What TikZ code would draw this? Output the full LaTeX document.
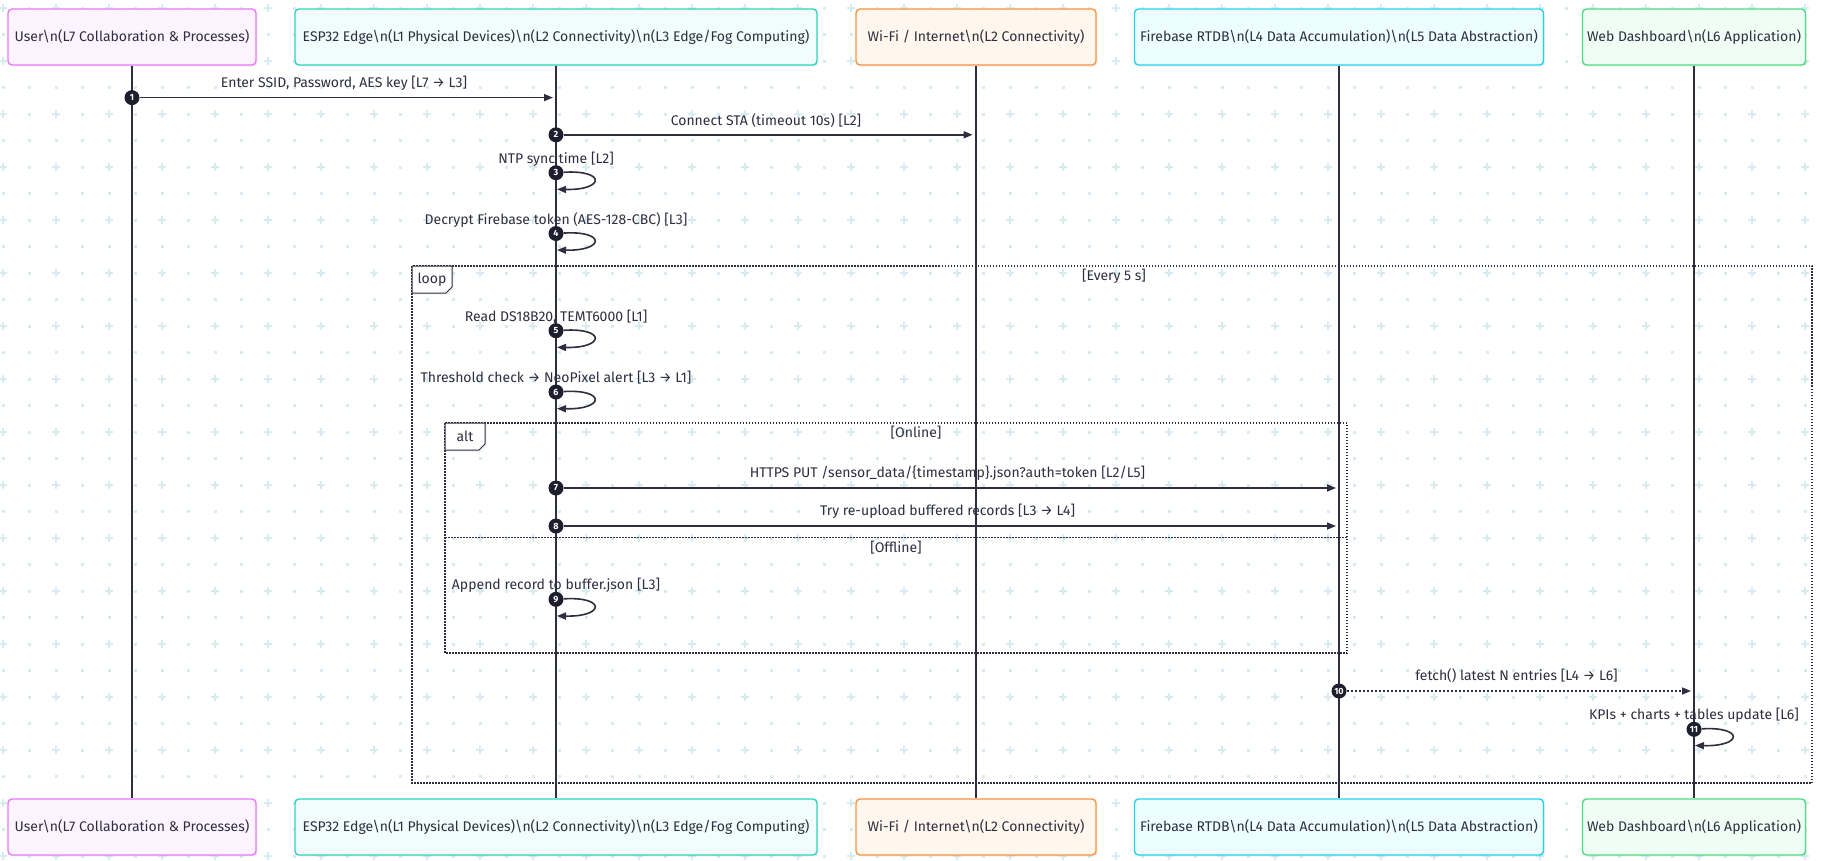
\documentclass[tikz,border=0pt]{standalone}
\usepackage{fontspec}
\setmainfont{Fira Sans}
\usepackage{tikz}
\usetikzlibrary{positioning,arrows.meta,shadows}
\definecolor{inkc}{HTML}{2E2E40}
\definecolor{numc}{HTML}{1E1E2E}
\definecolor{gridc}{HTML}{D6ECF1}
\definecolor{userline}{HTML}{E879F9}
\definecolor{userfill}{HTML}{FDF4FF}
\definecolor{espline}{HTML}{2DD4BF}
\definecolor{espfill}{HTML}{F0FDFA}
\definecolor{wifiline}{HTML}{FB923C}
\definecolor{wififill}{HTML}{FFF7ED}
\definecolor{fbline}{HTML}{22D3EE}
\definecolor{fbfill}{HTML}{ECFEFF}
\definecolor{webline}{HTML}{4ADE80}
\definecolor{webfill}{HTML}{F0FDF4}
\tikzset{
    actor/.style={
        rectangle,
        rounded corners=4pt,
        line width=1.4pt,
        minimum height=56pt,
        text centered,
        text=inkc,
        font=\fontsize{14}{16}\selectfont,
        drop shadow={shadow xshift=1.5pt, shadow yshift=-1.5pt, opacity=0.12}
    },
    lifeline/.style={
        draw=inkc,
        line width=1.7pt
    },
    msg/.style={
        ->,
        >={Triangle[length=9pt,width=7pt]},
        draw=inkc,
        line width=1.6pt
    },
    reply/.style={
        msg,
        dash pattern=on 2pt off 2pt
    },
    num/.style={
        circle,
        fill=numc,
        inner sep=0pt,
        minimum size=15pt,
        text=white,
        font=\fontsize{9}{9}\selectfont\bfseries
    },
    lbl/.style={
        text=inkc,
        inner sep=0pt,
        font=\fontsize{14}{16}\selectfont
    },
    frame/.style={
        draw=inkc,
        line width=1.2pt,
        dash pattern=on 1.5pt off 1.5pt
    },
    tagbox/.style={
        draw=inkc,
        fill=white,
        line width=1pt,
        drop shadow={shadow xshift=1.5pt, shadow yshift=-1.5pt, opacity=0.12}
    },
    griddot/.style={
        draw=gridc,
        line width=3pt,
        dash pattern=on 3pt off 23.5pt
    },
    gridplus/.style={
        draw=gridc,
        line width=2pt,
        dash pattern=on 8pt off 45pt
    }
}

\begin{document}
\begin{tikzpicture}[x=1pt,y=-1pt]
    \useasboundingbox (0,0) rectangle (1821,860);
    \fill[white] (0,0) rectangle (1821,860);
    % background grid
    \foreach \j in {0,...,32}
        \draw[griddot] (1.5,{8+26.5*\j}) -- (1821,{8+26.5*\j});
    \foreach \j in {0,...,16}
        \draw[gridplus] (-1,{8+53*\j}) -- (1821,{8+53*\j});
    \foreach \i in {0,...,34}
        \draw[gridplus] ({3+53*\i},4) -- ({3+53*\i},860);

    % participants
    \node (user) [actor, draw=userline, fill=userfill, minimum width=248pt] at (132,37) {User\textbackslash n(L7 Collaboration \& Processes)};
    \node (esp) [actor, draw=espline, fill=espfill, minimum width=522pt] at (556,37) {ESP32 Edge\textbackslash n(L1 Physical Devices)\textbackslash n(L2 Connectivity)\textbackslash n(L3 Edge/Fog Computing)};
    \node (wifi) [actor, draw=wifiline, fill=wififill, minimum width=240pt] at (976,37) {Wi-Fi / Internet\textbackslash n(L2 Connectivity)};
    \node (fbase) [actor, draw=fbline, fill=fbfill, minimum width=409pt] at (1339,37) {Firebase RTDB\textbackslash n(L4 Data Accumulation)\textbackslash n(L5 Data Abstraction)};
    \node (web) [actor, draw=webline, fill=webfill, minimum width=223pt] at (1694,37) {Web Dashboard\textbackslash n(L6 Application)};

    \node (userbot) [actor, draw=userline, fill=userfill, minimum width=248pt] at (132,827) {User\textbackslash n(L7 Collaboration \& Processes)};
    \node (espbot) [actor, draw=espline, fill=espfill, minimum width=522pt] at (556,827) {ESP32 Edge\textbackslash n(L1 Physical Devices)\textbackslash n(L2 Connectivity)\textbackslash n(L3 Edge/Fog Computing)};
    \node (wifibot) [actor, draw=wifiline, fill=wififill, minimum width=240pt] at (976,827) {Wi-Fi / Internet\textbackslash n(L2 Connectivity)};
    \node (fbasebot) [actor, draw=fbline, fill=fbfill, minimum width=409pt] at (1339,827) {Firebase RTDB\textbackslash n(L4 Data Accumulation)\textbackslash n(L5 Data Abstraction)};
    \node (webbot) [actor, draw=webline, fill=webfill, minimum width=223pt] at (1694,827) {Web Dashboard\textbackslash n(L6 Application)};

    \draw [lifeline] (user) -- (userbot);
    \draw [lifeline] (esp) -- (espbot);
    \draw [lifeline] (wifi) -- (wifibot);
    \draw [lifeline] (fbase) -- (fbasebot);
    \draw [lifeline] (web) -- (webbot);

    % loop and alt frames
    \coordinate (loopnw) at (412,266);
    \coordinate (loopse) at (1812,783);
    \draw [frame] (loopnw) rectangle (loopse);
    \draw [tagbox] (412,266) -- (452,266) -- (452,287) -- (446,293) -- (412,293) -- cycle;
    \node (looptag) [lbl] at (432,280) {loop};
    \node (loopcond) [lbl] at (1114,276.5) {[Every 5 s]};

    \coordinate (altnw) at (445,423);
    \coordinate (altse) at (1347,653);
    \coordinate (altdivw) at (445,537.5);
    \coordinate (altdive) at (1347,537.5);
    \draw [frame] (altnw) rectangle (altse);
    \draw [frame] (altdivw) -- (altdive);
    \draw [tagbox] (445,423) -- (485,423) -- (485,444) -- (479,450) -- (445,450) -- cycle;
    \node (alttag) [lbl] at (465,436.5) {alt};
    \node (online) [lbl] at (916,433) {[Online]};
    \node (offline) [lbl] at (896,547.5) {[Offline]};

    % messages
    \node (t1) [lbl] at (344,83.5) {Enter SSID, Password, AES key [L7 → L3]};
    \node (n1) [num] at (132,97.6) {1};
    \coordinate (e1) at (553,97.6);
    \draw [msg] (n1) -- (e1);

    \node (t2) [lbl] at (766,120.8) {Connect STA (timeout 10s) [L2]};
    \node (n2) [num] at (556,134.8) {2};
    \coordinate (e2) at (972.6,134.8);
    \draw [msg] (n2) -- (e2);

    \node (t3) [lbl] at (556,159.3) {NTP sync time [L2]};
    \node (n3) [num] at (556,172.7) {3};
    \coordinate (e3) at (557,189.3);
    \draw [msg] (n3) .. controls +(50,-3) and +(48,1) .. (e3);

    \node (t4) [lbl] at (556,219.7) {Decrypt Firebase token (AES-128-CBC) [L3]};
    \node (n4) [num] at (556,233.5) {4};
    \coordinate (e4) at (557,250);
    \draw [msg] (n4) .. controls +(50,-3) and +(48,1) .. (e4);

    \node (t5) [lbl] at (556,316.7) {Read DS18B20, TEMT6000 [L1]};
    \node (n5) [num] at (556,330.7) {5};
    \coordinate (e5) at (557,347.3);
    \draw [msg] (n5) .. controls +(50,-3) and +(48,1) .. (e5);

    \node (t6) [lbl] at (556,377.7) {Threshold check → NeoPixel alert [L3 → L1]};
    \node (n6) [num] at (556,392) {6};
    \coordinate (e6) at (557,408.6);
    \draw [msg] (n6) .. controls +(50,-3) and +(48,1) .. (e6);

    \node (t7) [lbl] at (947.5,473.5) {HTTPS PUT /sensor\_data/\{timestamp\}.json?auth=token [L2/L5]};
    \node (n7) [num] at (556,488) {7};
    \coordinate (e7) at (1336,488);
    \draw [msg] (n7) -- (e7);

    \node (t8) [lbl] at (947.5,511.5) {Try re-upload buffered records [L3 → L4]};
    \node (n8) [num] at (556,526) {8};
    \coordinate (e8) at (1336,526);
    \draw [msg] (n8) -- (e8);

    \node (t9) [lbl] at (556,584.8) {Append record to buffer.json [L3]};
    \node (n9) [num] at (556,599.3) {9};
    \coordinate (e9) at (557,615.9);
    \draw [msg] (n9) .. controls +(50,-3) and +(48,1) .. (e9);

    \node (t10) [lbl] at (1516.5,676) {fetch() latest N entries [L4 → L6]};
    \node (n10) [num] at (1339,691) {10};
    \coordinate (e10) at (1691,691);
    \draw [reply] (n10) -- (e10);

    \node (t11) [lbl] at (1694,715) {KPIs + charts + tables update [L6]};
    \node (n11) [num] at (1694,729.3) {11};
    \coordinate (e11) at (1695,745.5);
    \draw [msg] (n11) .. controls +(50,-3) and +(48,1) .. (e11);
\end{tikzpicture}
\end{document}
